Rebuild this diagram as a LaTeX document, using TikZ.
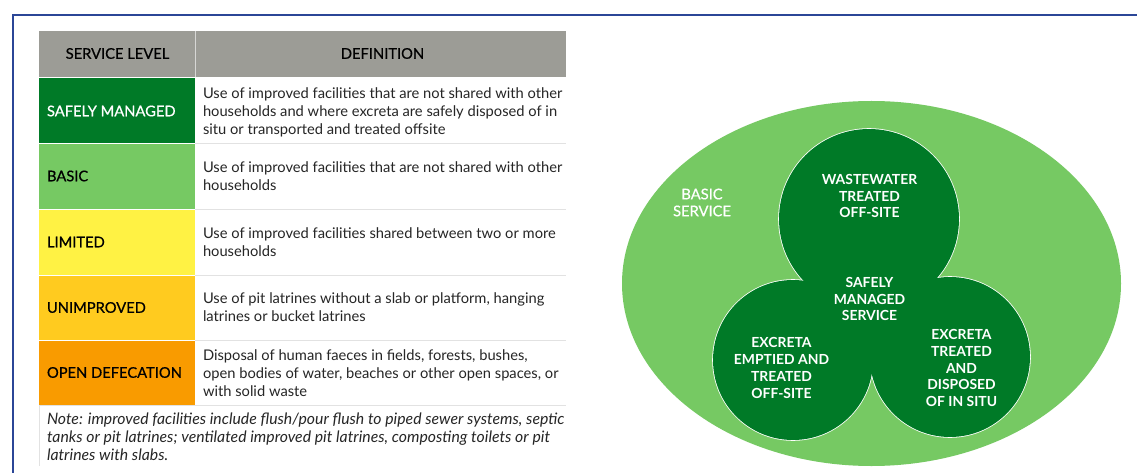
\documentclass[tikz,border=0pt]{standalone}
\usepackage{fontspec}
\setmainfont{Lato}
\definecolor{dgreen}{HTML}{007A27}
\definecolor{lgreen}{HTML}{76C963}
\definecolor{yel}{HTML}{FFF244}
\definecolor{amber}{HTML}{FFCB1F}
\definecolor{orng}{HTML}{F99B00}
\definecolor{hgrey}{HTML}{9C9C96}
\definecolor{frameblue}{HTML}{2B4697}
\definecolor{rule}{HTML}{E2E2E2}
\newcommand{\medw}{\addfontfeature{FakeBold=0.6}}
\tikzset{
  every node/.style={inner sep=0pt,outer sep=0pt},
  levelcell/.style={anchor=west,align=left,font=\fontsize{14.7}{18}\selectfont\medw},
  headcell/.style={anchor=center,font=\fontsize{14.7}{18}\selectfont\medw,text=black},
  deftext/.style={anchor=west,align=left,font=\fontsize{14.7}{18.1}\selectfont,text=black!85},
  notetext/.style={anchor=west,align=left,font=\fontsize{15.8}{18.1}\itshape\selectfont,text=black!85},
  circlabel/.style={anchor=center,align=center,text=white,font=\fontsize{13.9}{16.9}\selectfont\bfseries},
  rowrule/.style={draw=rule,line width=0.9pt},
}
\begin{document}
\begin{tikzpicture}[x=1pt,y=-1pt]
\useasboundingbox (0,0) rectangle (1137,473);
\fill[white] (0,0) rectangle (1137,473);
% frame
\draw[frameblue,line width=2.6pt] (1137,15) -- (13,15) -- (13,473);
% table header
\fill[hgrey] (39,31) rectangle (566,77);
\draw[white!60!hgrey,line width=0.9pt] (195,31) -- (195,77);
\node[headcell] (h1) at (117.5,53.5) {SERVICE LEVEL};
\node[headcell] (h2) at (382.5,53.5) {DEFINITION};
% level cells
\fill[dgreen] (39,78) rectangle (195,143);
\fill[lgreen] (39,144) rectangle (195,208.5);
\fill[yel] (39,209.5) rectangle (195,274.5);
\fill[amber] (39,275.5) rectangle (195,340);
\fill[orng] (39,341) rectangle (195,405);
\node[levelcell,text=white] (l1) at (47,111) {SAFELY MANAGED};
\node[levelcell] (l2) at (47,176) {BASIC};
\node[levelcell] (l3) at (47,242) {LIMITED};
\node[levelcell] (l4) at (47,307.5) {UNIMPROVED};
\node[levelcell] (l5) at (47,372.5) {OPEN DEFECATION};
% definitions
\node[deftext] (d1) at (203,112) {Use of improved facilities that are not shared with other\\households and where excreta are safely disposed of in\\situ or transported and treated offsite};
\node[deftext] (d2) at (203,176.5) {Use of improved facilities that are not shared with other\\households};
\node[deftext] (d3) at (203,242) {Use of improved facilities shared between two or more\\households};
\node[deftext] (d4) at (203,307.5) {Use of pit latrines without a slab or platform, hanging\\latrines or bucket latrines};
\node[deftext] (d5) at (203,373) {Disposal of human faeces in fields, forests, bushes,\\open bodies of water, beaches or other open spaces, or\\with solid waste};
\node[notetext] (n) at (47,437) {Note: improved facilities include flush/pour flush to piped sewer systems, septic\\tanks or pit latrines; ventilated improved pit latrines, composting toilets or pit\\latrines with slabs.};
% rules
\foreach \yy in {143.5,209,275,340.5,405.5}{\draw[rowrule] (195,\yy) -- (566,\yy);}
\draw[rowrule] (39,405.5) -- (195,405.5);
\draw[rule,line width=0.7pt] (39,405.5) -- (39,466);
% venn
\fill[lgreen] (871.5,283.5) ellipse [x radius=249.5,y radius=182.5];
\coordinate (ctop) at (869,219);
\coordinate (cleft) at (793,360);
\coordinate (cright) at (950,357);
\draw[white,line width=1.6pt] (ctop) circle [radius=90];
\draw[white,line width=1.6pt] (cleft) circle [radius=80];
\draw[white,line width=1.6pt] (cright) circle [radius=80];
\fill[dgreen] (ctop) circle [radius=90];
\fill[dgreen] (cleft) circle [radius=80];
\fill[dgreen] (cright) circle [radius=80];
\fill[dgreen] (ctop) -- (cleft) -- (cright) -- cycle;
\node[circlabel] (c1) at (869.5,196) {WASTEWATER\\TREATED\\OFF-SITE};
\node[circlabel] (c2) at (869.5,299) {SAFELY\\MANAGED\\SERVICE};
\node[circlabel] (c3) at (781.5,368) {EXCRETA\\EMPTIED AND\\TREATED\\OFF-SITE};
\node[circlabel] (c4) at (961.5,368) {EXCRETA\\TREATED\\AND\\DISPOSED\\OF IN SITU};
\node[anchor=center,align=center,text=white,font=\fontsize{14.7}{16.9}\selectfont\medw] (b) at (702,202.5) {BASIC\\SERVICE};
\end{tikzpicture}
\end{document}
